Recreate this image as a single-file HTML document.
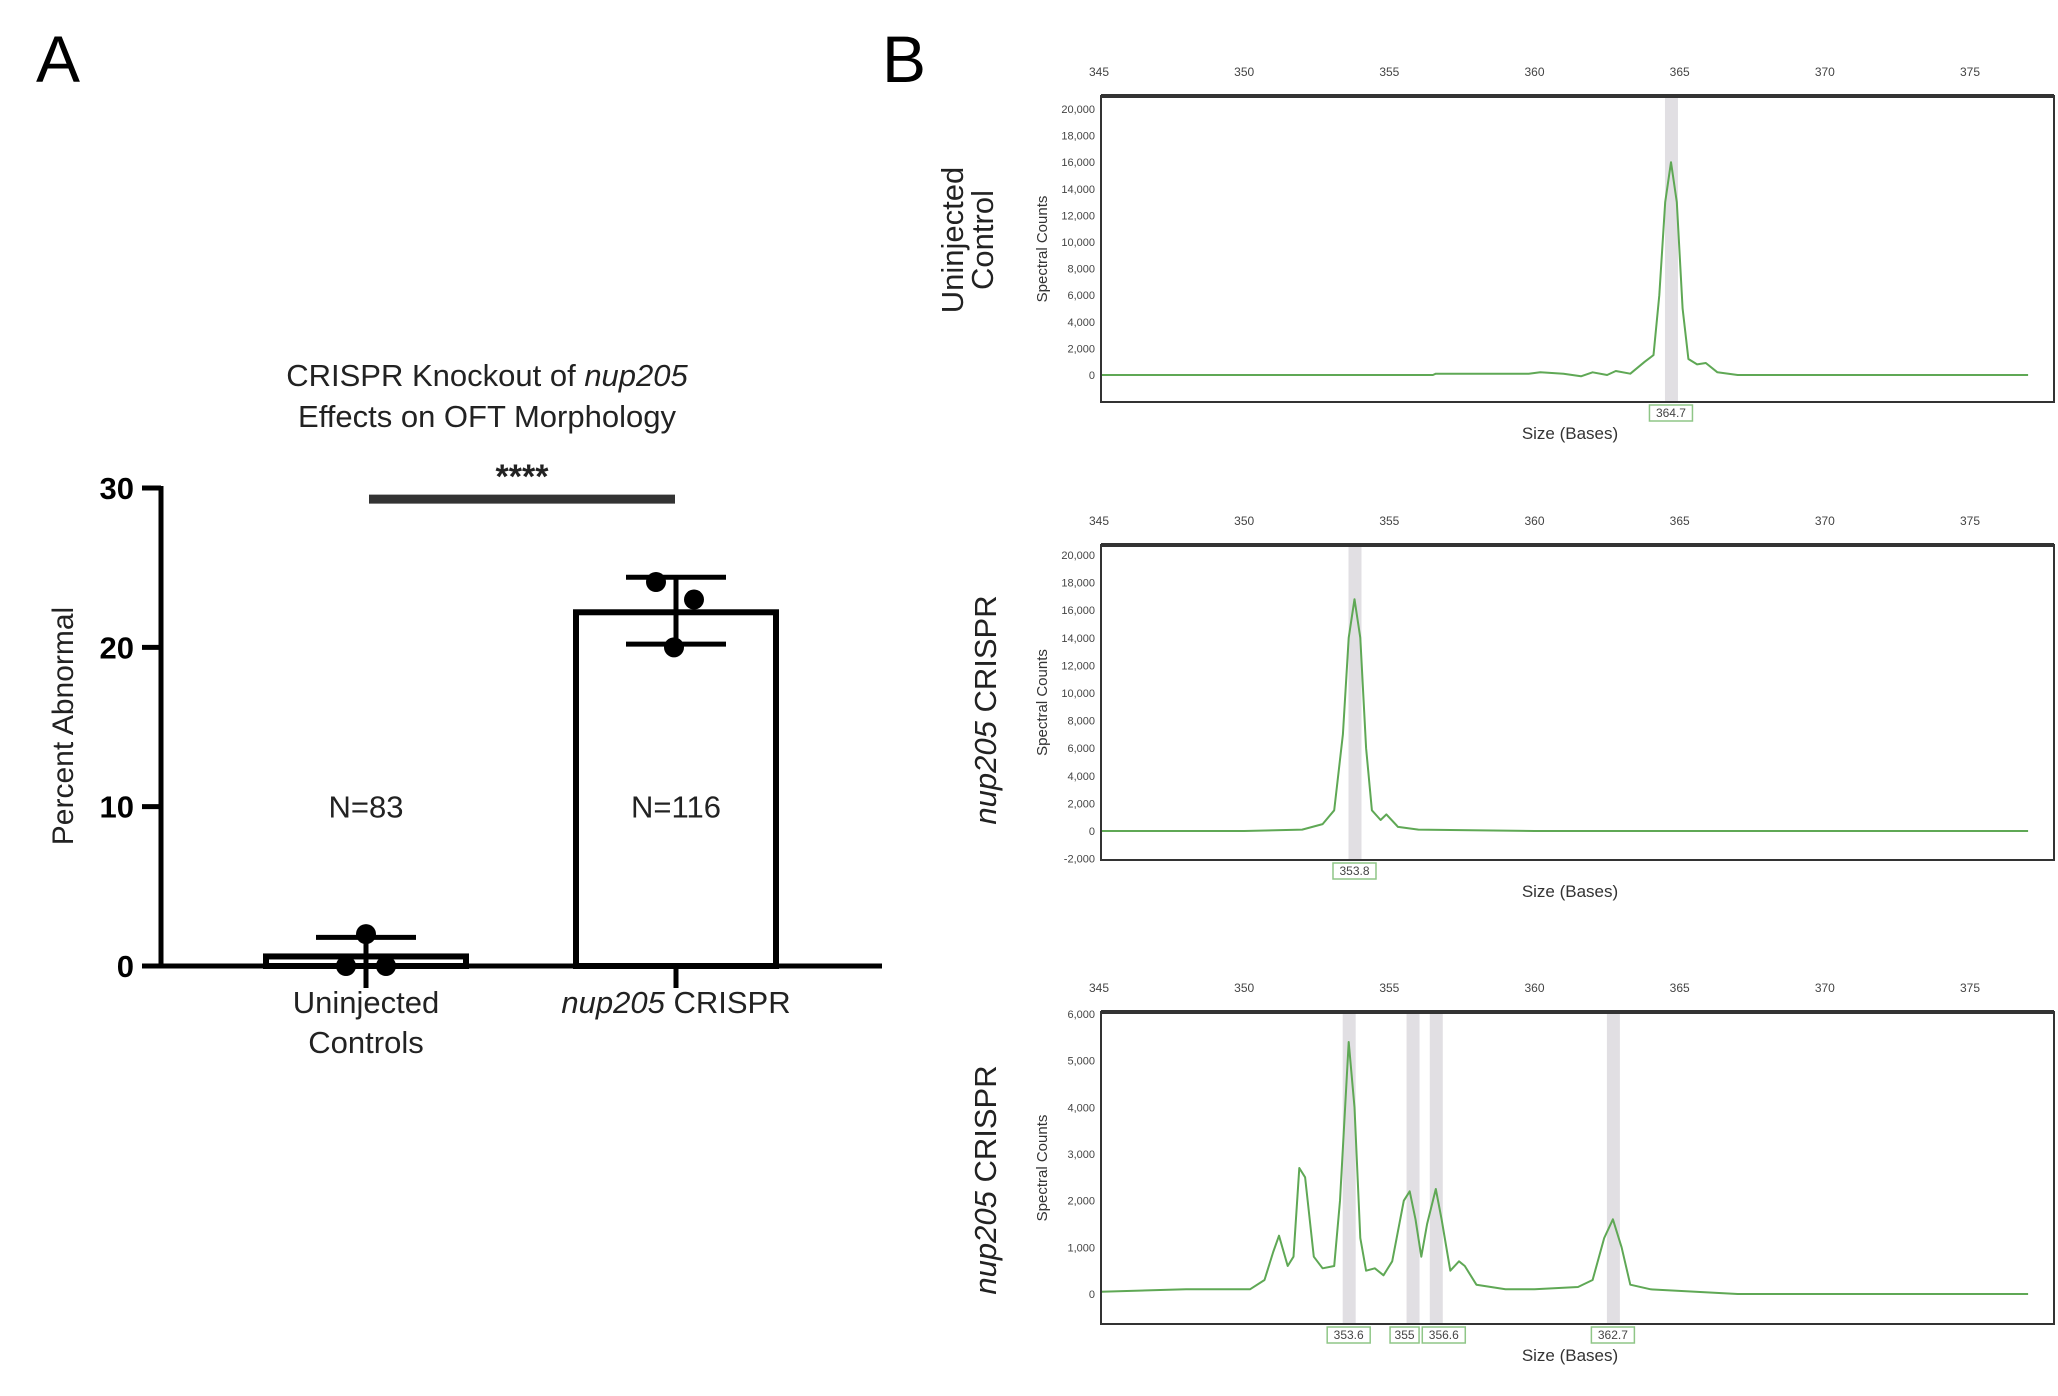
<!DOCTYPE html>
<html><head><meta charset="utf-8"><style>
html,body{margin:0;padding:0;background:#fff;}
svg{display:block;font-family:"Liberation Sans",sans-serif;}
</style></head><body>
<svg id="fig" width="2058" height="1396" viewBox="0 0 2058 1396">
<text x="36" y="82" font-size="66">A</text>
<text x="882" y="82" font-size="66">B</text>
<g id="pa"></g>
<g id="pb"></g>
</svg>
<script>
// ---- Panel A data ----
const barCategories = ["Uninjected Controls", "nup205 CRISPR"];
const barMeans = [0.6, 22.2];
const barErrLow = [0, 20.2];
const barErrHigh = [1.8, 24.4];
const barPoints = [[2.0, 0.0, 0.0], [24.1, 23.0, 20.0]];
const barN = ["N=83", "N=116"];
const yTicksA = [0, 10, 20, 30];

// ---- Panel B data ----
const trace1 = [[345,0],[356.5,0],[356.6,100],[359.8,100],[360.2,200],[361,100],[361.6,-100],[362,200],[362.5,0],[362.8,300],[363.3,100],[363.8,1000],[364.1,1500],[364.3,6000],[364.5,13000],[364.7,16000],[364.9,13000],[365.1,5000],[365.3,1200],[365.6,800],[365.9,900],[366.3,200],[367,0],[377,0]];
const trace2 = [[345,0],[350,0],[352,100],[352.7,500],[353.1,1500],[353.4,7000],[353.6,14000],[353.8,16800],[354.0,14000],[354.2,6000],[354.4,1500],[354.7,800],[354.9,1200],[355.3,300],[356,100],[360,0],[377,0]];
const trace3 = [[345,50],[348,100],[350.2,100],[350.7,300],[351.0,900],[351.2,1250],[351.5,600],[351.7,800],[351.9,2700],[352.1,2500],[352.4,800],[352.7,550],[353.1,600],[353.3,2000],[353.6,5400],[353.8,4000],[354.0,1200],[354.2,500],[354.5,550],[354.8,400],[355.1,700],[355.5,2000],[355.7,2200],[355.9,1600],[356.1,800],[356.3,1500],[356.6,2250],[356.8,1600],[357.1,500],[357.4,700],[357.6,600],[358,200],[359,100],[360,100],[361.5,150],[362,300],[362.4,1200],[362.7,1600],[363,1000],[363.3,200],[364,100],[367,0],[372,0],[377,0]];
const bands1 = [364.7], labels1 = ["364.7"];
const bands2 = [353.8], labels2 = ["353.8"];
const bands3 = [353.6, 355.8, 356.6, 362.7], labels3 = ["353.6", "355", "356.6", "362.7"];
const xTicksB = [345, 350, 355, 360, 365, 370, 375];
const yTicks1 = [0,2000,4000,6000,8000,10000,12000,14000,16000,18000,20000];
const yTicks2 = [-2000,0,2000,4000,6000,8000,10000,12000,14000,16000,18000,20000];
const yTicks3 = [0,1000,2000,3000,4000,5000,6000];

const NS = "http://www.w3.org/2000/svg";
function mk(parent, tag, attrs, text) {
  const e = document.createElementNS(NS, tag);
  for (const k in attrs) e.setAttribute(k, attrs[k]);
  if (text !== undefined) e.textContent = text;
  parent.appendChild(e);
  return e;
}

// ===== Panel A =====
const pa = document.getElementById('pa');
const ayA = v => 966 - v * (966 - 488) / 30;
const cx = [366, 676];
const bw = 200;
let t = mk(pa, 'text', {x: 487, y: 386, 'font-size': 31, 'text-anchor': 'middle', fill: '#222'});
 
t.innerHTML = 'CRISPR Knockout of <tspan font-style="italic">nup205</tspan>';
t = mk(pa, 'text', {x: 487, y: 427, 'font-size': 31, 'text-anchor': 'middle', fill: '#222'}, 'Effects on OFT Morphology');
 
t = mk(pa, 'text', {x: 0, y: 0, 'font-size': 30, 'text-anchor': 'middle', fill: '#222', transform: 'translate(73,726) rotate(-90)'}, 'Percent Abnormal');
 
let l = mk(pa, 'line', {x1: 161, y1: ayA(30) - 2, x2: 161, y2: 968, stroke: '#000', 'stroke-width': 5});
 
yTicksA.forEach(v => {
  const tk = mk(pa, 'line', {x1: 142, y1: ayA(v), x2: 161, y2: ayA(v), stroke: '#000', 'stroke-width': 5});
   
  const tl = mk(pa, 'text', {x: 134, y: ayA(v) + 11, 'font-size': 31, 'font-weight': 'bold', 'text-anchor': 'end'}, String(v));
   
});
barMeans.forEach((m, i) => {
  const r = mk(pa, 'rect', {x: cx[i] - bw / 2, y: ayA(m), width: bw, height: Math.max(966 - ayA(m), 1), fill: '#fff', stroke: '#000', 'stroke-width': 6});
   
  const e = mk(pa, 'path', {d: `M${cx[i]},${ayA(barErrLow[i])}V${ayA(barErrHigh[i])}M${cx[i]-50},${ayA(barErrHigh[i])}H${cx[i]+50}` + (barErrLow[i] > 0 ? `M${cx[i]-50},${ayA(barErrLow[i])}H${cx[i]+50}` : ''), stroke: '#000', 'stroke-width': 5, fill: 'none'});
   
  barPoints[i].forEach((p, j) => {
    let dx = i === 0 ? [0, -20, 20][j] : [-20, 18, -2][j];
    const c = mk(pa, 'circle', {cx: cx[i] + dx, cy: ayA(p), r: 10, fill: '#000'});
     
  });
  const n = mk(pa, 'text', {x: cx[i], y: ayA(10) + 11, 'font-size': 31, 'text-anchor': 'middle', fill: '#222'}, barN[i]);
   
  const xt = mk(pa, 'line', {x1: cx[i], y1: 966, x2: cx[i], y2: 988, stroke: '#000', 'stroke-width': 5});
   
});
l = mk(pa, 'line', {x1: 159, y1: 966, x2: 882, y2: 966, stroke: '#000', 'stroke-width': 5});
 
t = mk(pa, 'text', {x: cx[0], y: 1013, 'font-size': 31, 'text-anchor': 'middle', fill: '#222'}, 'Uninjected');
 
t = mk(pa, 'text', {x: cx[0], y: 1053, 'font-size': 31, 'text-anchor': 'middle', fill: '#222'}, 'Controls');
 
t = mk(pa, 'text', {x: cx[1], y: 1013, 'font-size': 31, 'text-anchor': 'middle', fill: '#222'});
 
t.innerHTML = '<tspan font-style="italic">nup205</tspan> CRISPR';
l = mk(pa, 'line', {x1: 369, y1: ayA(29.3), x2: 675, y2: ayA(29.3), stroke: '#333', 'stroke-width': 9});
 
t = mk(pa, 'text', {x: 522, y: ayA(29.3) - 11, 'font-size': 34, 'font-weight': 'bold', 'text-anchor': 'middle', fill: '#222'}, '****');
 

// ===== Panel B =====
const pb = document.getElementById('pb');
const X0 = 1101, X1 = 2054;
const ax = b => 1099 + (b - 345) * (1970 - 1099) / 30;
function plot(cfg) {
  const g = mk(pb, 'g', {});
   
  const ay = v => cfg.y0 - v * cfg.k;
  cfg.bands.forEach((b, i) => {
    const r = mk(g, 'rect', {x: ax(b) - 6, y: cfg.top, width: 13, height: cfg.bot - cfg.top, fill: '#e1dfe3'});
     
  });
  const d = cfg.trace.map((p, i) => (i ? 'L' : 'M') + Math.max(ax(p[0]), X0).toFixed(1) + ',' + ay(p[1]).toFixed(1)).join('');
  const tr = mk(g, 'path', {d: d, fill: 'none', stroke: '#5fa855', 'stroke-width': 2, 'stroke-linejoin': 'round'});
   
  const fr = mk(g, 'rect', {x: X0, y: cfg.top, width: X1 - X0, height: cfg.bot - cfg.top, fill: 'none', stroke: '#333', 'stroke-width': 2});
   
  mk(g, 'line', {x1: X0, y1: cfg.top, x2: X1, y2: cfg.top, stroke: '#333', 'stroke-width': 4});
  xTicksB.forEach(v => {
    const tl = mk(g, 'text', {x: ax(v), y: cfg.top - 20, 'font-size': 12, 'text-anchor': 'middle', fill: '#444'}, String(v));
     
  });
  cfg.yt.forEach(v => {
    const tl = mk(g, 'text', {x: X0 - 6, y: ay(v) + 4, 'font-size': 11, 'text-anchor': 'end', fill: '#444'}, v.toLocaleString('en-US'));
     
  });
  cfg.bands.forEach((b, i) => {
    const w = cfg.labels[i].length * 7 + 8;
    const lx = cfg.lx ? cfg.lx[i] : ax(b);
    const r = mk(g, 'rect', {x: lx - w / 2, y: cfg.bot + 3, width: w, height: 16, fill: '#fff', stroke: '#8fc687', 'stroke-width': 1.5});
     
    const tl = mk(g, 'text', {x: lx, y: cfg.bot + 15, 'font-size': 12, 'text-anchor': 'middle', fill: '#444'}, cfg.labels[i]);
     
  });
  let tt = mk(g, 'text', {x: 1570, y: cfg.bot + 37, 'font-size': 17, 'text-anchor': 'middle', fill: '#333'}, 'Size (Bases)');
   
  tt = mk(g, 'text', {x: 0, y: 0, 'font-size': 15, 'text-anchor': 'middle', fill: '#333', transform: `translate(1047,${(cfg.top + cfg.bot) / 2}) rotate(-90)`}, 'Spectral Counts');
   
  tt = mk(g, 'text', {x: 0, y: 0, 'font-size': 31, 'text-anchor': 'middle', fill: '#222', transform: `translate(${cfg.sx},${cfg.sy}) rotate(-90)`});
   
  tt.innerHTML = cfg.side;
}
plot({name: 'trace-uninjected', top: 96, bot: 402, y0: 375, k: 266 / 20000, trace: trace1, bands: bands1, labels: labels1, yt: yTicks1,
  sx: 975, sy: 240, side: '<tspan x="0" dy="-12">Uninjected</tspan><tspan x="0" dy="30">Control</tspan>'});
plot({name: 'trace-crispr-1', top: 545, bot: 860, y0: 831, k: 276 / 20000, trace: trace2, bands: bands2, labels: labels2, yt: yTicks2,
  sx: 996, sy: 710, side: '<tspan font-style="italic">nup205</tspan> CRISPR'});
plot({name: 'trace-crispr-2', top: 1012, bot: 1324, y0: 1294, k: 280 / 6000, trace: trace3, bands: bands3, labels: labels3, yt: yTicks3,
  lx: [ax(353.6), ax(355.8) - 8, ax(356.6) + 8, ax(362.7)],
  sx: 996, sy: 1180, side: '<tspan font-style="italic">nup205</tspan> CRISPR'});
</script>
</body></html>
